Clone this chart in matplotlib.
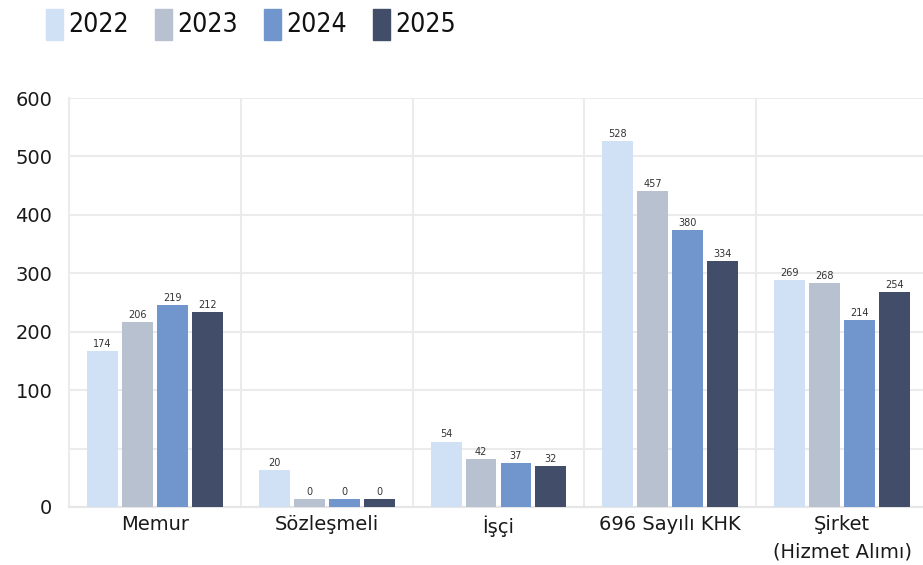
import numpy as np
import matplotlib
matplotlib.use("Agg")
import matplotlib.pyplot as plt
from matplotlib.patches import Rectangle

categories = ["Memur", "Sözleşmeli", "İşçi", "696 Sayılı KHK", "Şirket\n(Hizmet Alımı)"]
years = ["2022", "2023", "2024", "2025"]
colors = ["#d0e0f5", "#b8c1d0", "#7196ce", "#424e69"]

bar_heights = {
    "2022": [167, 32, 56, 526, 288],
    "2023": [217, 7, 41, 441, 283],
    "2024": [246, 7, 38, 374, 220],
    "2025": [234, 7, 35, 321, 268],
}
# numbers printed above the bars
bar_labels = {
    "2022": [174, 20, 54, 528, 269],
    "2023": [206, 0, 42, 457, 268],
    "2024": [219, 0, 37, 380, 214],
    "2025": [212, 0, 32, 334, 254],
}
y_ticks = [0, 50, 100, 200, 300, 400, 500, 600]
y_tick_labels = ["0", "", "100", "200", "300", "400", "500", "600"]


def fwd(v):
    v = np.asarray(v, dtype=float)
    return np.where(v < 100, v / 50.0, 2.0 + (v - 100) / 100.0)


def inv(u):
    u = np.asarray(u, dtype=float)
    return np.where(u < 2, u * 50.0, 100.0 + (u - 2) * 100.0)


plt.rcParams["font.family"] = ["DejaVu Sans"]

fig = plt.figure(figsize=(9.23, 5.65), dpi=100)
ax = fig.add_axes([69 / 923, 1 - 507 / 565, 859 / 923, 409 / 565])
ax.set_yscale("function", functions=(fwd, inv))

x = np.arange(len(categories))
step = 0.2035
width = 0.18
for i, yr in enumerate(years):
    xs = x + (i - 1.5) * step
    bars = ax.bar(xs, bar_heights[yr], width=width, color=colors[i], zorder=3)
    for b, lab in zip(bars, bar_labels[yr]):
        ax.annotate(str(lab), (b.get_x() + b.get_width() / 2, b.get_height()),
                    xytext=(0, 1.5), textcoords="offset points",
                    ha="center", va="bottom", fontsize=7, color="#333333")

ax.set_ylim(0, 600)
ax.set_xlim(-0.5, len(categories) - 0.5)
ax.set_yticks(y_ticks)
ax.set_yticklabels(y_tick_labels)
ax.set_xticks(x)
ax.set_xticklabels(categories)
for lbl in ax.get_xticklabels():
    lbl.set_linespacing(1.55)
ax.set_xticks(np.arange(len(categories) + 1) - 0.5, minor=True)
ax.grid(axis="y", color="#ebebeb", linewidth=1.5, zorder=0)
ax.grid(axis="x", which="minor", color="#ebebeb", linewidth=1.5, zorder=0)
ax.tick_params(axis="y", length=0, pad=12, labelsize=14, labelcolor="#1a1a1a")
ax.tick_params(axis="x", length=0, pad=6, labelsize=14, labelcolor="#1a1a1a")
ax.tick_params(axis="x", which="minor", length=0)
for s in ["top", "right"]:
    ax.spines[s].set_visible(False)
ax.spines["left"].set_color("#ebebeb")
ax.spines["left"].set_linewidth(1.5)
ax.spines["bottom"].set_color("#e6e6e6")
ax.spines["bottom"].set_linewidth(1.5)

# legend across the top
for i, yr in enumerate(years):
    x0 = (46 + 109 * i) / 923
    fig.patches.append(Rectangle((x0, 1 - 40 / 565), 17 / 923, 31 / 565,
                                 transform=fig.transFigure, color=colors[i]))
    fig.text(x0 + 22 / 923, 1 - 24.5 / 565, yr, fontsize=19, va="center",
             ha="left", color="#111111", fontstretch="condensed")

fig.savefig("out.png", dpi=100)
plt.close(fig)
